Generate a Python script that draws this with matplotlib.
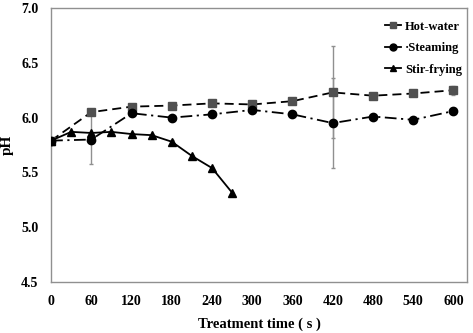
import matplotlib
matplotlib.use("Agg")
import matplotlib.pyplot as plt
from matplotlib.lines import Line2D

time_hw = [0, 60, 120, 180, 240, 300, 360, 420, 480, 540, 600]
ph_hw = [5.79, 6.05, 6.10, 6.11, 6.13, 6.12, 6.15, 6.23, 6.20, 6.22, 6.25]
err_hw = [0, 0, 0, 0, 0, 0, 0, 0.42, 0, 0, 0.04]

time_st = [0, 60, 120, 180, 240, 300, 360, 420, 480, 540, 600]
ph_st = [5.79, 5.80, 6.04, 6.00, 6.03, 6.07, 6.03, 5.95, 6.01, 5.98, 6.06]
err_st = [0, 0.22, 0, 0, 0, 0, 0, 0.41, 0, 0, 0.03]

time_sf = [0, 30, 60, 90, 120, 150, 180, 210, 240, 270]
ph_sf = [5.79, 5.87, 5.86, 5.87, 5.85, 5.84, 5.78, 5.65, 5.54, 5.315]
err_sf = [0, 0, 0, 0, 0, 0, 0.02, 0, 0, 0]

xticks = [0, 60, 120, 180, 240, 300, 360, 420, 480, 540, 600]
yticks = [4.5, 5.0, 5.5, 6.0, 6.5, 7.0]
labels = ['Hot-water', '\u00b7Steaming', 'Stir-frying']

plt.rcParams['font.family'] = ['Liberation Serif', 'DejaVu Serif']
plt.rcParams['font.weight'] = 'bold'

fig = plt.figure(figsize=(4.73, 3.33), dpi=100)
ax = fig.add_axes([0.108, 0.153, 0.879, 0.823])

styles = [
    dict(ls=(0, (5, 2.8)), marker='s', mfc='#505050', mec='#505050'),
    dict(ls=(0, (6.5, 2.5, 1.2, 2.5)), marker='o', mfc='black', mec='black'),
    dict(ls='-', marker='^', mfc='black', mec='black'),
]
series = [(time_hw, ph_hw, err_hw), (time_st, ph_st, err_st), (time_sf, ph_sf, err_sf)]
for (t, p, e), st in zip(series, styles):
    ax.errorbar(t, p, yerr=e, color='black', lw=1.3, ms=6, ecolor='#909090',
                elinewidth=1, capsize=1.5, zorder=3, **st)

ax.set_xlim(0, 620)
ax.set_ylim(4.5, 7.0)
ax.set_xticks(xticks)
ax.set_yticks(yticks)
ax.set_xticklabels([str(t) for t in xticks])
ax.set_yticklabels([f"{v:.1f}" for v in yticks])
ax.tick_params(length=0, labelsize=10, pad=9)
for sp in ax.spines.values():
    sp.set_color('#909090')
    sp.set_linewidth(1)

ax.set_xlabel('Treatment time ( s )', fontsize=10.5, fontweight='bold', labelpad=7)
ax.set_ylabel('pH', fontsize=11, fontweight='bold', labelpad=5)

handles = [Line2D([], [], color='black', lw=1.3, ls='-', marker=st['marker'], ms=5,
                  mfc=st['mfc'], mec=st['mec']) for st in styles]
ax.legend(handles, labels, loc='upper right', frameon=False, fontsize=9, handlelength=1.3,
          handletextpad=0.35, labelspacing=0.75, bbox_to_anchor=(1.01, 0.985),
          borderaxespad=0.3)

fig.savefig('out.png', dpi=100)
